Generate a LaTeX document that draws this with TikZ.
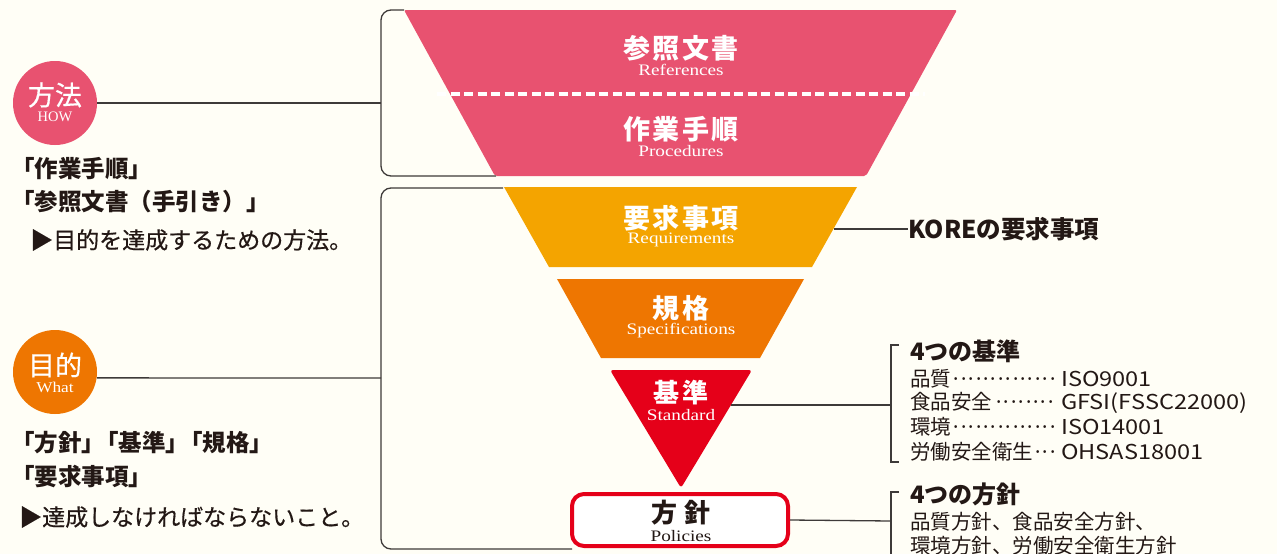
\documentclass[tikz,border=0pt]{standalone}
\usepackage{fontspec}
\setmainfont{Noto Sans CJK JP}
\newfontfamily\jp{Noto Sans CJK JP}
\newfontfamily\jpm[FakeBold=0.5]{Noto Sans CJK JP}
\newfontfamily\en{Liberation Serif}
\definecolor{bgc}{HTML}{FFFEF6}
\definecolor{pinkc}{HTML}{E85270}
\definecolor{yellowc}{HTML}{F4A400}
\definecolor{orangec}{HTML}{EE7601}
\definecolor{redc}{HTML}{E50019}
\definecolor{txtc}{HTML}{231815}
\definecolor{linec}{HTML}{3E3A39}
\newcommand\kk{\kern2.5pt}
\newcommand\bk{\kern-0.42em}
\newcommand\entxt[1]{\scalebox{1.2}[1]{\en #1}}
\newcommand\lat[1]{\scalebox{1.15}[1]{#1}}
\newcommand\lrow[2]{\makebox[151pt][l]{#1\cleaders\hbox to 7.4pt{\hss·\hss}\hfill\kern3pt}\lat{#2}}
\tikzset{
  conn/.style={draw=linec, line width=1.3pt},
  headtxt/.style={text=white, font=\jp\bfseries\fontsize{27}{30}\selectfont, inner sep=0pt},
  subtxt/.style={text=white, font=\fontsize{16}{18}\selectfont, inner sep=0pt},
  lefthead/.style={text=txtc, font=\jp\bfseries\fontsize{23.5}{26}\selectfont, anchor=west, inner sep=0pt},
  leftbody/.style={text=txtc, font=\jpm\fontsize{23}{25}\selectfont, anchor=west, inner sep=0pt},
  righthead/.style={text=txtc, font=\jp\bfseries\fontsize{24}{27}\selectfont, anchor=west, inner sep=0pt},
  rightbody/.style={text=txtc, font=\jp\fontsize{20.5}{23}\selectfont, anchor=west, inner sep=0pt},
}
\begin{document}
\begin{tikzpicture}[x=1pt,y=-1pt]
\useasboundingbox (0,0) rectangle (1277,554);
\fill[bgc] (0,0) rectangle (1277,554);

% funnel shapes
\fill[pinkc, rounded corners=2pt] (404,10) -- (957,10) -- (866,176) -- (495,176) -- cycle;
\draw[white, line width=4pt, dash pattern=on 9pt off 4.5pt] (437,94) -- (925,94);
\fill[yellowc] (504,187) -- (857,187) -- (812,267) -- (549,267) -- cycle;
\fill[orangec] (557,279) -- (804,279) -- (760,358) -- (601,358) -- cycle;
\fill[redc, rounded corners=3pt] (610,370) -- (752,370) -- (681,488) -- cycle;
\node[draw=redc, line width=4pt, rounded corners=12pt, fill=white, minimum width=216pt, minimum height=52pt, inner sep=0pt] (pol) at (680,520) {};

% funnel labels
\node[headtxt] (refj) at (681,48) {参\kk 照\kk 文\kk 書};
\node[subtxt] (refe) at (681,70) {\entxt{References}};
\node[headtxt] (proj) at (681,129) {作\kk 業\kk 手\kk 順};
\node[subtxt] (proe) at (681,151) {\entxt{Procedures}};
\node[headtxt] (reqj) at (681,218) {要\kk 求\kk 事\kk 項};
\node[subtxt] (reqe) at (681,240) {\entxt{Requirements}};
\node[headtxt] (spej) at (681,308) {規\kk 格};
\node[subtxt] (spee) at (681,331) {\entxt{Specifications}};
\node[headtxt, font=\jp\bfseries\fontsize{26}{30}\selectfont] (stdj) at (681,393) {基\kk 準};
\node[subtxt] (stde) at (681,415) {\entxt{Standard}};
\node[headtxt, text=txtc, font=\jp\bfseries\fontsize{26}{30}\selectfont] (polj) at (681,513) {方\kern8pt 針};
\node[subtxt, text=txtc] (pole) at (681,536) {\entxt{Policies}};

% left circles
\node[circle, fill=pinkc, minimum size=84pt, inner sep=0pt] (how) at (55,103) {};
\node[text=white, font=\jpm\fontsize{27}{30}\selectfont, inner sep=0pt] (howj) at (55,95) {方法};
\node[text=white, font=\en\fontsize{14.5}{16}\selectfont, inner sep=0pt] (howe) at (55,117) {HOW};
\node[circle, fill=orangec, minimum size=84pt, inner sep=0pt] (what) at (55,372) {};
\node[text=white, font=\jpm\fontsize{27}{30}\selectfont, inner sep=0pt] (whatj) at (55,365) {目的};
\node[text=white, font=\en\fontsize{15}{16}\selectfont, inner sep=0pt] (whate) at (55,387) {\scalebox{1.15}[1]{What}};

% left brackets
\coordinate (b1) at (381,103);
\coordinate (b2) at (381,378);
\draw[conn, rounded corners=10pt] (404,10) -- (381,10) -- (381,176) -- (496,176);
\draw[conn, rounded corners=10pt] (503,188) -- (381,188) -- (381,549) -- (572,549);
\draw[conn] (how.east) -- (b1);
\draw[conn] (what.-8) -- (b2);

% left texts
\node[lefthead] (l1) at (11,169) {「作業手順」};
\node[lefthead] (l2) at (11,202) {「参照文書（手引き）」};
\node[leftbody] (l3) at (30,240) {▶目的を達成するための方法。};
\node[lefthead] (l4) at (11,443) {「方針」\bk「基準」\bk「規格」};
\node[lefthead] (l5) at (11,477) {「要求事項」};
\node[leftbody] (l6) at (19,517) {▶達成しなければならないこと。};

% right side
\coordinate (reqR) at (834,229);
\node[righthead, font=\jp\bfseries\fontsize{24.5}{27}\selectfont] (kore) at (908,229) {KOREの要求事項};
\draw[conn] (reqR) -- (kore.west);

\coordinate (stdR) at (731,405);
\coordinate (br1) at (891,405);
\draw[conn] (stdR) -- (br1);
\draw[conn] (899,345) -- (891,345) -- (891,462) -- (899,462);
\node[righthead] (k4) at (910,351) {4つの基準};
\node[rightbody] (r1) at (910,379) {\lrow{品質}{ISO9001}};
\node[rightbody] (r2) at (910,403) {\lrow{食品安全}{GFSI(FSSC22000)}};
\node[rightbody] (r3) at (910,427) {\lrow{環境}{ISO14001}};
\node[rightbody] (r4) at (910,452) {\lrow{労働安全衛生}{OHSAS18001}};

\coordinate (br2) at (891,521);
\draw[conn] (pol.east) -- (br2);
\draw[conn] (899,492) -- (891,492) -- (891,560);
\node[righthead] (p4) at (910,494) {4つの方針};
\node[rightbody] (p1) at (910,522) {品質方針、食品安全方針、};
\node[rightbody] (p2) at (910,546) {環境方針、労働安全衛生方針};
\end{tikzpicture}
\end{document}
